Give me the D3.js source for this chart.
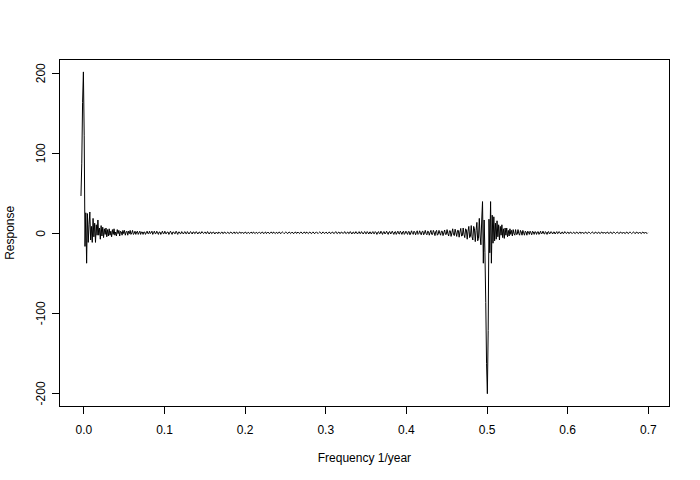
<!DOCTYPE html>
<html>
<head>
<meta charset="utf-8">
<script src="https://cdn.jsdelivr.net/npm/d3@7"></script>
<style>
  html, body { margin: 0; padding: 0; background: #ffffff; }
  svg { display: block; }
  text { font-family: "Liberation Sans", Arial, sans-serif; font-size: 12px; fill: #000; }
</style>
</head>
<body>
<svg id="chart" width="700" height="480"></svg>
<script>
// ---- data ----
const freqStart = -0.003;   // first frequency (1/year)
const freqStep = 0.001;     // sampling step (1/year)
const response = [
  46, 87, 163, 201, 122, -17, 25, -38, 24, -12,
  10, 26, -9, 8, -12, 18, -5, 12, -12, 10,
  -3, 16, -3, 6, -8, 9, -4, 7, -6, 5,
  -2, 6, -5, 4,
  -4, 5, -3, 2, -5, 4, -2, 5, -3, 1,
  -4, 4, -1, 3, -4, 2, 1, -3, 3, -1,
  3, -3, 1, 2, -3, 2, -1, 3, -2, 0,
  3, -2, -1, 2, -2, 1, 2, -2, 0, 2,
  -2, 1, 1, -2, 1, 1, -2, 0, 2, -1,
  -1, 2, -1, 0, 2, -2, 0, 2, -1, -1,
  2, 0, -2, 1, 1, -2, 0, 2, -1, -1,
  2, -1, -1, 1, 1, -2, 0, 2, 0, -2,
  1, 1, -1, -1, 2, 0, -2, 1, 1, -1,
  -1, 1.5, 0, -1.5, 0.5, 1.5, -1, -1, 1.5, 0,
  -1.5, 0.5, 1.5, -0.5, -1.5, 1, 1, -1, -0.5, 1.5,
  0, -1.5, 0.5, 1, -1, -0.5, 1.5, 0, -1, 0.5,
  1, -1, -0.5, 1.5, 0, -1.5, 0.5, 1, -1, -0.5,
  1, 0.5, -1.5, 0, 1, -0.5, -1, 1, 0, -1,
  0.5, 1, -1, -0.5, 1, 0.5, -1, 0, 1, -0.5,
  -1, 0.5, 1, -0.5, -1, 0.5, 1, -1, 0, 1,
  -0.5, -1, 0.5, 1, -0.5, -0.5, 1, 0, -1, 0.5,
  1, -0.5, -1, 0.5, 0.5, -1, 0, 1, -0.5, -0.5,
  1, 0, -1, 0.5, 0.5, -1, 0, 1, 0, -1,
  0.5, 1, -0.5, -1, 0.5, 1, -1, 0, 1, -0.5,
  -1, 0.5, 1, -0.5, -0.5, 1, 0, -1, 0.5, 0.5,
  -1, 0.5, 1, -0.5, -1, 0.5, 1, 0, -1, 0,
  1, 0.5, -1, -0.5, 1, 0.5, -1, 0, 1, -0.5,
  -1, 0.5, 1, -0.5, -0.5, 1, 0, -1, 0.5, 1,
  -0.5, -1, 0.5, 1, -0.5, -0.5, 1, 0, -1, 0.5,
  1, -0.5, -1, 0.5, 1, -0.5, -1, 0.5, 1, 0,
  -1, 0, 1, 0.5, -1, -0.5, 1, 0.5, -1, 0,
  1, -0.5, -1, 0.5, 1, -0.5, -1, 0.5, 1, -0.5,
  -1, 0.5, 1.5, -0.5, -1, 0.5, 1, -1, -0.5, 1,
  0.5, -1, 0, 1.5, -0.5, -1, 0.5, 1, -1, -0.5,
  1.5, 0, -1.5, 0.5, 1, -1, -0.5, 1.5, 0, -1.5,
  0.5, 1.5, -1, -0.5, 1.5, 0, -1.5, 0.5, 1.5, -1,
  -1, 1.5, 0, -1.5, 1, 1, -1.5, 0, 1.5, -1,
  -1, 1.5, 0.5, -2, 0.5, 1.5, -1, -1, 2, 0,
  -2, 1, 1.5, -1.5, -0.5, 2, 0, -2, 1, 1.5,
  -1.5, -0.5, 2, 0, -2, 1, 1.5, -2, 0, 2,
  -1, -1.5, 2, 0.5, -2, 1, 2, -2, -0.5, 2,
  0, -2, 1.5, 1.5, -2.5, 0, 2.5, -1, -2, 2,
  1, -2.5, 0.5, 2.5, -2, -1, 2.5, 0, -2.5, 1.5,
  2, -2.5, -0.5, 3, -1, -2.5, 2, 1.5, -3, 0.5,
  3, -2, -2, 3, 0.5, -3.5, 1.5, 3, -3, -1.5,
  3, -0.5, -3, 2, 2, -3.5, 0, 3.5, -2, -2,
  4, -1, -4, 2.5, 2.5, -4.5, 0, 5, -2.5, -3.5,
  4.5, 0, -4.5, 3, 3, -5.5, 1, 5.5, -4, -3.5,
  6, -2, -6, 5, 3.5, -8, 2, 8, -6, -4.5,
  9, -5, -9, 8, 5, -11, 3, 13, -10, -7,
  18, -4, -15, 16, 39, -38, 16, -25, -87, -163,
  -201, -122, 17, -25, 39, -38, 22, -13, 20, -10,
  12, -8, 15, -5, 10, -9, 8, -3, 10, -6,
  5, -7, 6, -3, 6, -5, 3, -4, 5, -2,
  3, -4, 4, -1, -3, 4, -2, -2, 4, -1,
  -3, 3, 1, -3, 3, 0, -3, 2, 1, -3,
  2, 1, -2, 2, 0, -2.5, 2, 1, -2, 1.5,
  1, -2, 1, 1.5, -2, 0, 2, -1.5, -0.5, 2,
  -1, -1.5, 1.5, 0.5, -2, 1, 1.5, -1.5, -0.5, 1.5,
  0, -1.5, 1, 1, -1.5, 0, 1.5, -1, -0.5, 1.5,
  0, -1.5, 0.5, 1, -1, -0.5, 1.5, 0, -1, 0.5,
  1, -1, -0.5, 1, 0.5, -1, 0, 1, -0.5, -1,
  0.5, 1, -0.5, -1, 0.5, 1, -1, 0, 1, -0.5,
  -1, 0.5, 1, -0.5, -1, 0.5, 1, 0, -1, 0,
  1, 0.5, -1, -0.5, 1, 0.5, -1, 0, 1, -0.5,
  -1, 0.5, 1, -0.5, -0.5, 1, 0, -1, 0.5, 1,
  -0.5, -1, 0.5, 1, -0.5, -1, 0.5, 1, 0, -1,
  0, 1, 0.5, -1, -0.5, 1, 0.5, -1, 0, 1,
  -0.5, -1, 0.5, 1, -0.5, -1, 0.5, 1, 0, -1,
  0, 1, 0.5, -1, -0.5, 1, 0.5, -1, 0, 1,
  -0.5, -1, 0.5, 1, -0.5, -0.5, 1, 0, -1, 0
];
const xTicks = [0, 0.1, 0.2, 0.3, 0.4, 0.5, 0.6, 0.7];
const xTickLabels = ["0.0", "0.1", "0.2", "0.3", "0.4", "0.5", "0.6", "0.7"];
const yTicks = [-200, -100, 0, 100, 200];
const yTickLabels = ["-200", "-100", "0", "100", "200"];
const xTitle = "Frequency 1/year";
const yTitle = "Response";
const xLimits = [-0.0302, 0.7272];

// ---- layout ----
const W = 700, H = 480;
const plot = { left: 59.04, right: 669.76, top: 59.04, bottom: 406.56 };

const points = response.map((v, i) => ({ f: freqStart + i * freqStep, v }));

const yExt = d3.extent(response);
const yPad = (yExt[1] - yExt[0]) * 0.04;

const x = d3.scaleLinear().domain(xLimits).range([plot.left, plot.right]);
const y = d3.scaleLinear().domain([yExt[0] - yPad, yExt[1] + yPad]).range([plot.bottom, plot.top]);

const svg = d3.select("#chart");
svg.append("rect").attr("width", W).attr("height", H).attr("fill", "#fff");

const snap = v => Math.round(v - 0.5) + 0.5;

// data line
svg.append("path")
  .datum(points)
  .attr("fill", "none")
  .attr("stroke", "#000")
  .attr("stroke-width", 1)
  .attr("d", d3.line().x(d => x(d.f)).y(d => y(d.v)));

// box
svg.append("rect")
  .attr("x", snap(plot.left)).attr("y", snap(plot.top))
  .attr("width", snap(plot.right) - snap(plot.left))
  .attr("height", snap(plot.bottom) - snap(plot.top))
  .attr("fill", "none").attr("stroke", "#000").attr("stroke-width", 1)
  .attr("shape-rendering", "crispEdges");

// x axis
const xAxis = d3.axisBottom(x)
  .tickValues(xTicks)
  .tickFormat((d, i) => xTickLabels[i])
  .tickSize(7.2)
  .tickPadding(12.5);
const gx = svg.append("g")
  .attr("transform", `translate(0,${snap(plot.bottom)})`)
  .call(xAxis);
gx.select(".domain").remove();
gx.append("line")
  .attr("x1", x(xTicks[0])).attr("x2", x(xTicks[xTicks.length - 1]))
  .attr("stroke", "#000");
gx.selectAll("line").attr("stroke", "#000").attr("shape-rendering", "crispEdges");
gx.selectAll("text")
  .attr("fill", "#000").attr("font-size", 12)
  .attr("font-family", "Liberation Sans, Arial, sans-serif")
  .attr("dy", null)
  .attr("y", 27);

// y axis
const yAxis = d3.axisLeft(y)
  .tickValues(yTicks)
  .tickFormat((d, i) => yTickLabels[i])
  .tickSize(7.2);
const gy = svg.append("g")
  .attr("transform", `translate(${snap(plot.left)},0)`)
  .call(yAxis);
gy.select(".domain").remove();
gy.append("line")
  .attr("y1", y(yTicks[0])).attr("y2", y(yTicks[yTicks.length - 1]))
  .attr("stroke", "#000");
gy.selectAll("line").attr("stroke", "#000").attr("shape-rendering", "crispEdges");
gy.selectAll(".tick text")
  .attr("fill", "#000").attr("font-size", 12)
  .attr("font-family", "Liberation Sans, Arial, sans-serif")
  .attr("x", null).attr("dy", null)
  .attr("text-anchor", "middle")
  .attr("transform", "translate(-14.5,0) rotate(-90)");

// titles
svg.append("text")
  .attr("x", (plot.left + plot.right) / 2)
  .attr("y", 462)
  .attr("text-anchor", "middle")
  .text(xTitle);
svg.append("text")
  .attr("transform", `translate(14,${(plot.top + plot.bottom) / 2}) rotate(-90)`)
  .attr("text-anchor", "middle")
  .text(yTitle);
</script>
</body>
</html>
